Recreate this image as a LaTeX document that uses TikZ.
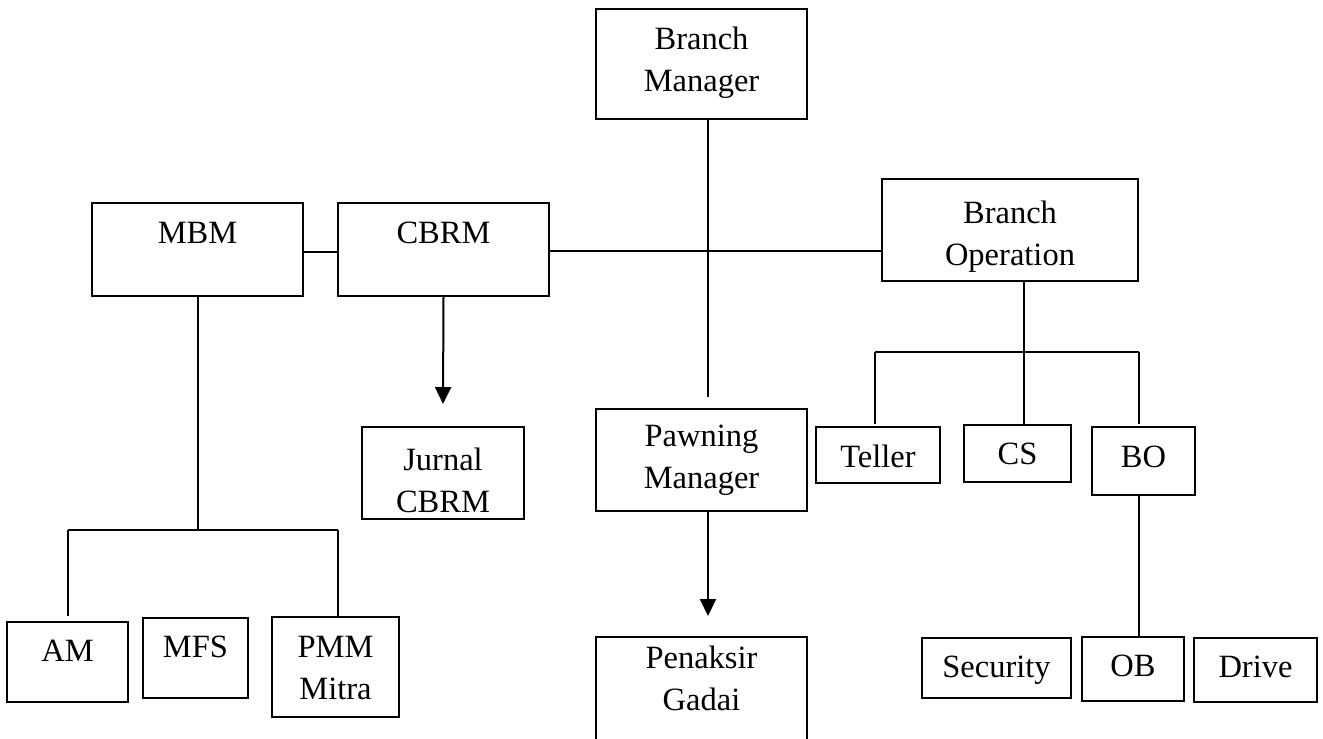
\documentclass[tikz,border=0pt]{standalone}
\usepackage{fontspec}
\setmainfont{Liberation Serif}
\usetikzlibrary{arrows.meta}
\tikzset{
  orgbx/.style={draw, rectangle, line width=2pt, inner sep=0pt},
  txt/.style={font=\fontsize{32.5}{42}\selectfont, align=center, inner sep=0pt, anchor=north},
  ln/.style={line width=2pt},
  arr/.style={line width=2pt, -{Triangle[length=17pt,width=16pt]}}
}
\newcommand\orgbox[5]{\node[orgbx, minimum width={#4-#2}, minimum height={#5-#3}] (#1) at ({(#2+#4)/2},{(#3+#5)/2}) {};}
\begin{document}
\begin{tikzpicture}[x=1pt,y=-1pt]
\useasboundingbox (0,0) rectangle (1323,739);
\fill[white] (0,0) rectangle (1323,739);
% boxes
\orgbox{bm}{596}{9}{807}{119}
\orgbox{mbm}{92}{203}{303}{296}
\orgbox{cbrm}{338}{203}{549}{296}
\orgbox{bop}{882}{179}{1138}{281}
\orgbox{jur}{362}{427}{524}{519}
\orgbox{pm}{596}{409}{807}{511}
\orgbox{pg}{596}{637}{807}{775}
\orgbox{tel}{816}{427}{940}{483}
\orgbox{cs}{964}{425}{1071}{482}
\orgbox{bo}{1092}{427}{1195}{495}
\orgbox{am}{7}{622}{128}{702}
\orgbox{mfs}{143}{618}{248}{698}
\orgbox{pmm}{272}{617}{399}{717}
\orgbox{sec}{922}{638}{1071}{698}
\orgbox{ob}{1082}{637}{1184}{701}
\orgbox{drv}{1194}{638}{1317}{702}
% texts
\node[txt] (tbm) at (701.5,27) {Branch\\Manager};
\node[txt] (tmbm) at (197.5,222) {MBM};
\node[txt] (tcbrm) at (443.5,222) {CBRM};
\node[txt] (tbop) at (1010,201) {Branch\\Operation};
\node[txt] (tjur) at (443,448) {Jurnal\\CBRM};
\node[txt] (tpm) at (701.5,425) {Pawning\\Manager};
\node[txt] (tpg) at (701.5,646) {Penaksir\\Gadai};
\node[txt] (ttel) at (878,445) {Teller};
\node[txt] (tcs) at (1017.5,443) {CS};
\node[txt] (tbo) at (1143.5,446) {BO};
\node[txt] (tam) at (67.5,640) {AM};
\node[txt] (tmfs) at (195.5,636) {MFS};
\node[txt] (tpmm) at (335.5,636) {PMM\\Mitra};
\node[txt] (tsec) at (996.5,656) {Security};
\node[txt] (tob) at (1133,655) {OB};
\node[txt] (tdrv) at (1255.5,656) {Drive};
% connectors
\coordinate (bmend) at (708,397);
\draw[ln] ([xshift=6.5pt]bm.south) -- (bmend);
\draw[ln] ([yshift=-2.5pt]mbm.east) -- ([yshift=-2.5pt]cbrm.west);
\coordinate (c1) at ([yshift=-1.5pt]cbrm.east);
\draw[ln] (c1) -- (c1 -| bop.west);
% MBM tree
\coordinate (ml) at (67.5,530);
\coordinate (mr) at (338,530);
\draw[ln] (mbm.south) -- (mbm.south |- ml);
\draw[ln] (ml) -- (mr);
\draw[ln] (ml) -- ([yshift=5pt]am.north);
\draw[ln] (mr) -- (mr |- pmm.north);
% arrows
\draw[arr] (cbrm.south) -- ([yshift=22pt]jur.north);
\draw[arr] ([xshift=6.5pt]pm.south) -- ([xshift=6.5pt,yshift=20pt]pg.north);
% Branch operation tree
\coordinate (bv) at ([xshift=14pt]bop.south);
\coordinate (bl) at (875,352);
\coordinate (br) at (1139,352);
\draw[ln] (bv) -- (bv |- cs.north);
\draw[ln] (bl) -- (br);
\draw[ln] (bl) -- (bl |- cs.north);
\draw[ln] (br) -- (br |- cs.north);
\draw[ln] (br |- bo.south) -- (br |- ob.north);
\end{tikzpicture}
\end{document}
